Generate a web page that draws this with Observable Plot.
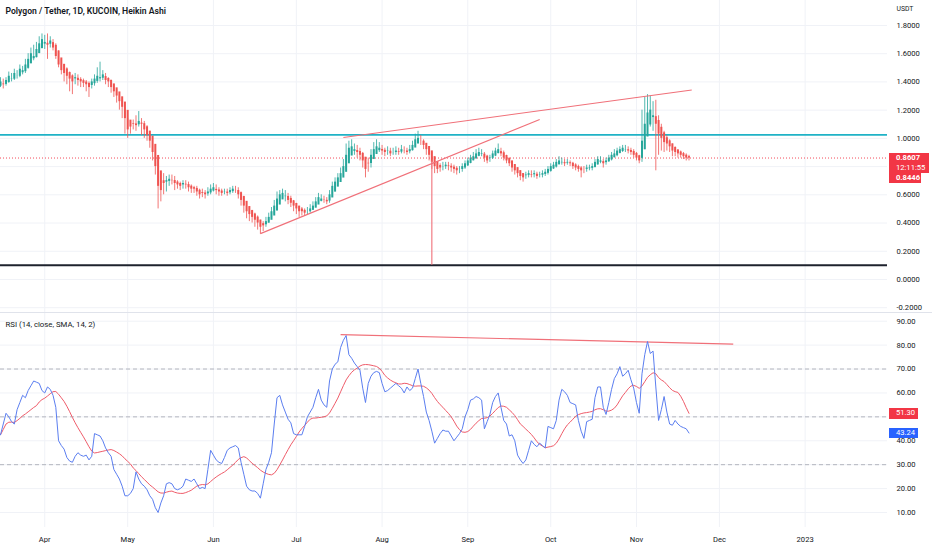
<!DOCTYPE html>
<html><head><meta charset="utf-8">
<script src="https://cdn.jsdelivr.net/npm/d3@7"></script>
<script src="https://cdn.jsdelivr.net/npm/@observablehq/plot@0.6"></script>
<style>
html,body{margin:0;padding:0;background:#fff;overflow:hidden;}
#wrap{position:relative;width:932px;height:550px;overflow:hidden;font-family:Roboto,"Noto Sans",sans-serif;}
#wrap svg{position:absolute;left:0;display:block;max-width:none;}
.box{position:absolute;color:#fff;font-size:7.6px;line-height:10px;padding-left:7px;box-sizing:border-box;white-space:nowrap;}
</style></head><body><div id="wrap"></div>
<script>
// ---------- data (daily Heikin Ashi candles from 2022-03-16) ----------
const startDate = "2022-03-16";
const haOpenFirst = 1.37;
const haClose = [
1.40,1.38,1.41,1.44,1.42,1.46,1.44,1.49,1.48,1.52,
1.56,1.60,1.58,1.63,1.67,1.70,1.68,1.66,1.69,1.64,
1.58,1.52,1.48,1.46,1.44,1.42,1.40,1.43,1.41,1.40,
1.39,1.38,1.36,1.40,1.42,1.44,1.43,1.45,1.41,1.40,
1.36,1.33,1.30,1.26,1.22,1.14,1.06,1.08,1.10,1.09,
1.12,1.10,1.06,1.02,0.98,0.90,0.80,0.66,0.63,0.68,
0.70,0.71,0.70,0.68,0.67,0.66,0.68,0.67,0.65,0.64,
0.64,0.62,0.60,0.61,0.60,0.62,0.64,0.65,0.63,0.62,
0.61,0.62,0.61,0.63,0.64,0.63,0.60,0.56,0.52,0.48,
0.46,0.44,0.42,0.40,0.37,0.38,0.41,0.44,0.48,0.52,
0.57,0.60,0.61,0.59,0.56,0.54,0.52,0.50,0.48,0.48,
0.47,0.48,0.50,0.52,0.55,0.58,0.57,0.56,0.55,0.60,
0.66,0.69,0.72,0.75,0.80,0.88,0.93,0.94,0.92,0.90,
0.88,0.84,0.78,0.82,0.88,0.92,0.94,0.93,0.91,0.90,
0.91,0.89,0.90,0.91,0.90,0.92,0.91,0.90,0.92,0.95,
0.99,1.00,0.98,0.95,0.92,0.88,0.83,0.80,0.78,0.79,
0.80,0.81,0.80,0.79,0.78,0.77,0.78,0.80,0.82,0.84,
0.86,0.87,0.89,0.90,0.89,0.86,0.84,0.86,0.89,0.91,
0.92,0.89,0.86,0.84,0.82,0.79,0.77,0.75,0.73,0.72,
0.74,0.75,0.74,0.75,0.73,0.74,0.75,0.76,0.78,0.80,
0.81,0.83,0.84,0.83,0.82,0.83,0.82,0.80,0.79,0.78,
0.77,0.78,0.79,0.79,0.80,0.83,0.85,0.84,0.82,0.84,
0.86,0.88,0.89,0.91,0.92,0.93,0.92,0.91,0.90,0.88,
0.86,0.84,0.98,1.10,1.18,1.20,1.16,1.10,1.03,1.00,
0.97,0.96,0.94,0.91,0.90,0.89,0.88,0.87,0.86,0.86];
const haHigh = [
1.43,1.42,1.43,1.47,1.46,1.49,1.48,1.52,1.51,1.56,
1.60,1.64,1.66,1.68,1.72,1.74,1.73,1.74,1.72,1.70,
1.67,1.62,1.56,1.52,1.50,1.47,1.45,1.46,1.45,1.43,
1.42,1.41,1.40,1.42,1.45,1.50,1.54,1.48,1.46,1.43,
1.41,1.38,1.35,1.31,1.27,1.22,1.14,1.12,1.13,1.16,
1.19,1.14,1.12,1.09,1.05,1.00,0.95,0.86,0.76,0.75,
0.73,0.74,0.74,0.73,0.70,0.69,0.70,0.70,0.69,0.67,
0.66,0.66,0.64,0.64,0.63,0.65,0.67,0.68,0.67,0.65,
0.64,0.64,0.64,0.65,0.66,0.66,0.65,0.62,0.59,0.55,
0.51,0.49,0.47,0.45,0.42,0.41,0.44,0.47,0.51,0.56,
0.62,0.63,0.64,0.63,0.61,0.59,0.56,0.54,0.52,0.51,
0.50,0.51,0.53,0.55,0.58,0.61,0.60,0.59,0.58,0.63,
0.69,0.72,0.75,0.79,0.85,0.96,0.98,0.99,0.96,0.95,
0.93,0.90,0.86,0.86,0.92,0.97,0.99,0.97,0.95,0.93,
0.94,0.93,0.93,0.94,0.93,0.95,0.94,0.93,0.95,0.98,
1.03,1.05,1.02,0.99,0.96,0.93,0.90,0.86,0.82,0.82,
0.83,0.83,0.83,0.82,0.81,0.80,0.80,0.82,0.84,0.86,
0.88,0.90,0.92,0.93,0.92,0.90,0.88,0.88,0.91,0.93,
0.96,0.93,0.91,0.88,0.86,0.84,0.81,0.79,0.77,0.75,
0.76,0.77,0.77,0.77,0.76,0.76,0.77,0.78,0.80,0.82,
0.83,0.85,0.87,0.86,0.85,0.85,0.84,0.83,0.82,0.81,
0.80,0.80,0.81,0.81,0.82,0.85,0.87,0.87,0.85,0.86,
0.88,0.90,0.92,0.93,0.94,0.95,0.95,0.94,0.93,0.92,
0.90,0.88,1.20,1.29,1.31,1.30,1.26,1.27,1.16,1.10,
1.05,1.02,0.99,0.96,0.94,0.92,0.91,0.90,0.89,0.88];
const haLow = [
1.36,1.35,1.37,1.39,1.40,1.41,1.42,1.43,1.45,1.46,
1.49,1.53,1.55,1.57,1.60,1.64,1.63,1.56,1.64,1.62,
1.56,1.50,1.45,1.40,1.38,1.33,1.31,1.38,1.37,1.36,
1.36,1.33,1.29,1.35,1.37,1.39,1.40,1.41,1.38,1.36,
1.32,1.29,1.25,1.20,1.14,1.03,1.00,1.03,1.06,1.05,
1.08,1.02,1.00,0.98,0.93,0.84,0.74,0.50,0.55,0.60,
0.62,0.66,0.67,0.63,0.64,0.63,0.64,0.64,0.62,0.61,
0.61,0.59,0.57,0.58,0.57,0.59,0.60,0.62,0.60,0.59,
0.59,0.60,0.59,0.60,0.61,0.61,0.57,0.52,0.47,0.43,
0.41,0.40,0.37,0.35,0.32,0.34,0.37,0.40,0.43,0.46,
0.50,0.55,0.57,0.55,0.53,0.51,0.48,0.46,0.44,0.45,
0.45,0.46,0.47,0.49,0.51,0.54,0.55,0.54,0.53,0.54,
0.58,0.63,0.67,0.70,0.73,0.78,0.84,0.88,0.88,0.86,
0.84,0.79,0.72,0.76,0.79,0.85,0.89,0.90,0.88,0.87,
0.88,0.87,0.88,0.88,0.88,0.89,0.89,0.88,0.89,0.91,
0.94,0.96,0.95,0.92,0.88,0.84,0.78,0.75,0.75,0.76,
0.77,0.78,0.77,0.76,0.75,0.74,0.75,0.76,0.78,0.80,
0.82,0.84,0.85,0.87,0.87,0.83,0.82,0.83,0.85,0.87,
0.89,0.87,0.84,0.82,0.80,0.76,0.74,0.72,0.70,0.69,
0.71,0.72,0.72,0.72,0.71,0.72,0.72,0.73,0.74,0.76,
0.78,0.79,0.81,0.81,0.80,0.81,0.80,0.78,0.77,0.76,
0.72,0.75,0.76,0.77,0.77,0.79,0.81,0.82,0.79,0.81,
0.83,0.84,0.86,0.87,0.89,0.90,0.90,0.89,0.88,0.86,
0.84,0.82,0.83,0.92,1.02,1.08,1.05,0.77,0.88,0.91,
0.90,0.91,0.90,0.87,0.87,0.86,0.86,0.85,0.84,0.84];
const rsiValues = [
42.5,47,51.5,50,48,47,53,56,59,58,
61,63,65,64.5,64,61,60,62.5,61.5,59,
54,40,38,36.5,33,31.5,31,33.5,35,34,
33.5,34,32,33.5,43,42.5,42,40,37,35,
33.5,28,26,24,21,17,17,18,20,27,
24,22,21,19.5,17,15.5,12,10,14,17,
22,22.5,22,20,19.5,20,21,24,23.5,23,
24,22,20,20.5,20,28,36,34,32,31,
30.5,33,36,37,37.5,38,37,31,26,21,
19.5,19,19,18,16,22,28,31,35,47,
58,59,55,52,49,47.5,43,42.5,42.5,42.5,
46,50,52,54,58,61.5,57,55,54,65,
70,72,73,79,82,84,76,74.5,72.5,71,
69.5,62,56,64,67,68.5,69,68.5,64,60.5,
61,62,63,64,63,62,60,62.5,61,62,
66,70,64,58.5,52,48.5,44,39,41,43,
44.5,44,44,42,40,41.5,43,45,50,53,
57,57.5,58.5,58,57,45,48,51,56,58.5,
60,54,48.5,47,42,42.5,40,34,32,30.5,
32,36,40,38.5,37.5,39,38,37,46,45.5,
45,48.5,57,61.5,60.5,59,56,55.5,55,48.5,
44,41,48,48.5,49,58,62.5,62.5,54,51,
56,61.5,66,68,71,67,68,69.5,65.5,62,
56,51.5,68,76,81.5,76.5,77.5,62.5,48.5,53,
58.5,52,47,46.5,48.5,47,46,45.5,45,43.24];

// axis ticks and labels (0.8000 and 50.00 sit under the last-value boxes in the reference)
const priceGridTicks = [-0.2,0,0.2,0.4,0.6,0.8,1.0,1.2,1.4,1.6,1.8];
const priceLabelTicks = [-0.2,0,0.2,0.4,0.6,1.0,1.2,1.4,1.6,1.8];
const rsiGridTicks = [10,20,30,40,50,60,70,80,90];
const rsiLabelTicks = [10,20,30,40,60,70,80,90];
const rsiBands = [30,50,70];
const monthTicks = ["2022-04-01","2022-05-01","2022-06-01","2022-07-01","2022-08-01","2022-09-01","2022-10-01","2022-11-01","2022-12-01","2023-01-01"];
const xDomain = ["2022-03-16T00:00Z","2023-01-30T19:00Z"];
const priceDomain = [-0.234, 1.977];
const rsiDomain = [3.73, 93.64];

// drawings
const cyanLevel = [1.025];
const blackLevel = [0.10];
const priceTrendLines = [
  {x1:"2022-06-18", y1:0.325, x2:"2022-09-27", y2:1.134},
  {x1:"2022-07-18", y1:1.006, x2:"2022-11-21", y2:1.343}
];
const verticalMarker = [{x:"2022-08-19", y1:0.84, y2:0.10}];
const rsiTrendLines = [{x1:"2022-07-17", y1:84.4, x2:"2022-12-06", y2:80.4}];

// last values shown on the scales
const lastPrice = 0.8607, countdown = "12:11:55", otherPrice = 0.8446;
const lastRsi = 43.24, lastSma = 51.30;
const titleText = "Polygon / Tether, 1D, KUCOIN, Heikin Ashi";
const rsiTitle = "RSI (14, close, SMA, 14, 2)";

// ---------- build ----------
const W = 932, MR = 45, PRICE_H = 312, RSI_H = 238;
const UP = "#26a69a", DOWN = "#ef5350", TREND = "#f07079";
const DAY = 864e5, t0 = new Date(startDate + "T00:00Z").getTime();
const candles = haClose.map((c, i) => ({date: new Date(t0 + i * DAY), close: c, high: haHigh[i], low: haLow[i]}));
candles.forEach((d, i) => {
  d.open = i === 0 ? haOpenFirst : (candles[i-1].open + candles[i-1].close) / 2;
  d.up = d.close >= d.open;
  d.top = Math.max(d.open, d.close);
  d.bot = Math.min(d.open, d.close);
});
const ups = candles.filter(d => d.up), downs = candles.filter(d => !d.up);
const rsiRows = rsiValues.map((v, i) => ({date: new Date(t0 + i * DAY), rsi: v}));
const months = monthTicks.map(s => new Date(s + "T00:00Z"));
const xd = xDomain.map(s => new Date(s));
const toDate = s => new Date(s + "T00:00Z");
const pt = priceTrendLines.map(d => ({...d, x1: toDate(d.x1), x2: toDate(d.x2)}));
const rt = rsiTrendLines.map(d => ({...d, x1: toDate(d.x1), x2: toDate(d.x2)}));
const vm = verticalMarker.map(d => ({...d, x: toDate(d.x)}));
const GRID = "#f0f2f7";
const font = "Roboto, 'Noto Sans', sans-serif";

const priceChart = Plot.plot({
  width: W, height: PRICE_H, marginLeft: 0, marginRight: MR, marginTop: 0, marginBottom: 0,
  style: {fontFamily: font, fontSize: "7.6px", color: "#131722", background: "transparent", overflow: "visible"},
  x: {type: "utc", domain: xd, axis: null},
  y: {domain: priceDomain, axis: "right", ticks: priceLabelTicks, tickFormat: d => d.toFixed(4), tickSize: 0, tickPadding: 9, label: null},
  marks: [
    Plot.ruleY(priceGridTicks, {stroke: GRID}),
    Plot.ruleX(months, {stroke: GRID}),
    Plot.ruleY([lastPrice], {stroke: "#f23645", strokeDasharray: "1,2", strokeWidth: 0.9}),
    Plot.ruleY(cyanLevel, {stroke: "#1fb2c6", strokeWidth: 1.6, x1: xd[0], x2: xd[1]}),
    Plot.ruleY(blackLevel, {stroke: "#1e222d", strokeWidth: 2, x1: xd[0], x2: xd[1]}),
    Plot.ruleX(ups, {x: "date", y1: "low", y2: "high", stroke: UP, strokeWidth: 0.8}),
    Plot.ruleX(downs, {x: "date", y1: "low", y2: "high", stroke: DOWN, strokeWidth: 0.8}),
    Plot.ruleX(ups, {x: "date", y1: "bot", y2: "top", stroke: UP, strokeWidth: 2}),
    Plot.ruleX(downs, {x: "date", y1: "bot", y2: "top", stroke: DOWN, strokeWidth: 2}),
    Plot.link(pt, {x1: "x1", y1: "y1", x2: "x2", y2: "y2", stroke: TREND, strokeWidth: 1.1}),
    Plot.ruleX(vm, {x: "x", y1: "y1", y2: "y2", stroke: TREND, strokeWidth: 1.1}),
    Plot.text([titleText], {text: d => d, frameAnchor: "top-left", dx: 5, dy: 11, textAnchor: "start", lineAnchor: "middle", fontSize: 8.6, fontWeight: 600, fill: "#131722"}),
    Plot.text(["USDT"], {text: d => d, frameAnchor: "top-right", dx: 9, dy: 8, textAnchor: "start", lineAnchor: "middle", fontSize: 6.8, fill: "#131722"})
  ]
});

const rsiChart = Plot.plot({
  width: W, height: RSI_H, marginLeft: 0, marginRight: MR, marginTop: 0, marginBottom: 23,
  style: {fontFamily: font, fontSize: "7.6px", color: "#131722", background: "transparent", overflow: "visible"},
  x: {type: "utc", domain: xd, ticks: months, tickFormat: d => d.getUTCMonth() === 0 ? String(d.getUTCFullYear()) : d3.utcFormat("%b")(d), tickSize: 0, tickPadding: 9, label: null},
  y: {domain: rsiDomain, axis: "right", ticks: rsiLabelTicks, tickFormat: d => d.toFixed(2), tickSize: 0, tickPadding: 9, label: null},
  marks: [
    Plot.ruleY(rsiGridTicks, {stroke: GRID}),
    Plot.ruleX(months, {stroke: GRID}),
    Plot.ruleY(rsiBands, {stroke: "#a3a6af", strokeDasharray: "4,3", strokeWidth: 0.8}),
    Plot.link(rt, {x1: "x1", y1: "y1", x2: "x2", y2: "y2", stroke: TREND, strokeWidth: 1.1}),
    Plot.lineY(rsiRows, Plot.windowY({k: 14, anchor: "end", reduce: "mean"}, {x: "date", y: "rsi", stroke: "#ef5c6a", strokeWidth: 1})),
    Plot.lineY(rsiRows, {x: "date", y: "rsi", stroke: "#5b7ef0", strokeWidth: 1}),
    Plot.text([rsiTitle], {text: d => d, frameAnchor: "top-left", dx: 5, dy: 12, textAnchor: "start", lineAnchor: "middle", fontSize: 7.8, fill: "#131722"})
  ]
});

const wrap = document.getElementById("wrap");
priceChart.style.top = "0px";
rsiChart.style.top = PRICE_H + "px";
wrap.appendChild(priceChart);
wrap.appendChild(rsiChart);

const divider = document.createElement("div");
divider.style.cssText = `position:absolute;left:0;top:${PRICE_H}px;width:${W}px;height:1px;background:#e0e3eb;`;
wrap.appendChild(divider);

const boxLeft = W - MR + 2;
function box(top, width, height, bg, html, bold) {
  const b = document.createElement("div");
  b.className = "box";
  b.style.cssText += `left:${boxLeft}px;top:${top}px;width:${width}px;height:${height}px;background:${bg};font-weight:${bold ? 700 : 400};`;
  b.innerHTML = html;
  wrap.appendChild(b);
  return b;
}
const py = priceChart.scale("y").apply(lastPrice);
box(py - 4.5, 40, 20, "#f23645", `<div style="font-weight:700">${lastPrice.toFixed(4)}</div><div style="font-weight:400">${countdown}</div>`);
box(py + 15.5, 32, 10, "#f23645", otherPrice.toFixed(4), true);
const ry = rsiChart.scale("y");
box(PRICE_H + ry.apply(lastSma) - 5, 29, 10.5, "#f23645", lastSma.toFixed(2), false);
box(PRICE_H + ry.apply(lastRsi) - 5, 29, 10.5, "#2962ff", lastRsi.toFixed(2), false);
</script></body></html>
